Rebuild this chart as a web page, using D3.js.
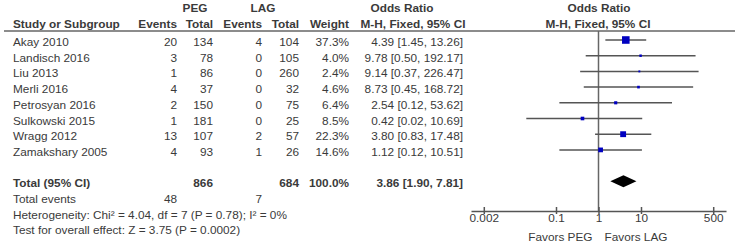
<!DOCTYPE html>
<html>
<head>
<meta charset="utf-8">
<script src="https://cdn.jsdelivr.net/npm/d3@7"></script>
<style>
  body { margin: 0; background: #fff; }
  svg text { font-family: "Liberation Sans", Arial, sans-serif; font-size: 11.8px; fill: #3a3a3a; }
  .b { font-weight: bold; }
</style>
</head>
<body>
<svg id="chart" width="738" height="245"></svg>
<script>
const studies = ["Akay 2010", "Landisch 2016", "Liu 2013", "Merli 2016", "Petrosyan 2016", "Sulkowski 2015", "Wragg 2012", "Zamakshary 2005"];
const pegEvents = [20, 3, 1, 4, 2, 1, 13, 4];
const pegTotal = [134, 78, 86, 37, 150, 181, 107, 93];
const lagEvents = [4, 0, 0, 0, 0, 0, 2, 1];
const lagTotal = [104, 105, 260, 32, 75, 25, 57, 26];
const weights = [37.3, 4.0, 2.4, 4.6, 6.4, 8.5, 22.3, 14.6];
const orValue = [4.39, 9.78, 9.14, 8.73, 2.54, 0.42, 3.80, 1.12];
const orLow = [1.45, 0.50, 0.37, 0.45, 0.12, 0.02, 0.83, 0.12];
const orHigh = [13.26, 192.17, 226.47, 168.72, 53.62, 10.69, 17.48, 10.51];
const total = {peg: 866, lag: 684, weight: 100.0, or: 3.86, lo: 1.90, hi: 7.81, pegEv: 48, lagEv: 7};
const tickValues = [0.002, 0.1, 1, 10, 500];
const tickLabels = ["0.002", "0.1", "1", "10", "500"];

const svg = d3.select("#chart");

// row positions (index -> y)
const y = d3.scaleLinear().domain([0, 1]).range([40, 55.7]);
const x = d3.scaleLog().domain([0.001, 1000]).range([471, 726]);
const axisY = 211;

// column right edges
const col = {study: 13, pegEv: 177, pegTot: 213, lagEv: 262, lagTot: 299, weight: 349, ci: 463};

function txt(xx, yy, s, anchor, bold) {
  return svg.append("text")
    .attr("x", xx).attr("y", yy)
    .attr("text-anchor", anchor || "start")
    .attr("class", bold ? "b" : null)
    .text(s);
}

// headers
txt(195, 12, "PEG", "middle", true);
txt(263, 12, "LAG", "middle", true);
txt(402, 12, "Odds Ratio", "middle", true);
txt(599, 12, "Odds Ratio", "middle", true);
txt(col.study, 28, "Study or Subgroup", "start", true);
txt(col.pegEv, 28, "Events", "end", true);
txt(col.pegTot, 28, "Total", "end", true);
txt(col.lagEv, 28, "Events", "end", true);
txt(col.lagTot, 28, "Total", "end", true);
txt(col.weight, 28, "Weight", "end", true);
txt(413, 28, "M-H, Fixed, 95% CI", "middle", true);
txt(598, 28, "M-H, Fixed, 95% CI", "middle", true);

// header rule + null line
svg.append("line").attr("x1", 4).attr("x2", 735).attr("y1", 31).attr("y2", 31)
  .attr("stroke", "#666").attr("stroke-width", 1.5);
svg.append("line").attr("x1", x(1)).attr("x2", x(1)).attr("y1", 31).attr("y2", axisY)
  .attr("stroke", "#666").attr("stroke-width", 1.5);

// study rows
studies.forEach(function(s, i) {
  const ty = y(i) + 6;
  txt(col.study, ty, s);
  txt(col.pegEv, ty, pegEvents[i], "end");
  txt(col.pegTot, ty, pegTotal[i], "end");
  txt(col.lagEv, ty, lagEvents[i], "end");
  txt(col.lagTot, ty, lagTotal[i], "end");
  txt(col.weight, ty, weights[i].toFixed(1) + "%", "end");
  txt(col.ci, ty, orValue[i].toFixed(2) + " [" + orLow[i].toFixed(2) + ", " + orHigh[i].toFixed(2) + "]", "end");
});

const g = svg.append("g");
g.selectAll("line.ci").data(studies).join("line")
  .attr("class", "ci")
  .attr("x1", (d, i) => x(orLow[i]))
  .attr("x2", (d, i) => x(orHigh[i]))
  .attr("y1", (d, i) => y(i))
  .attr("y2", (d, i) => y(i))
  .attr("stroke", "#555").attr("stroke-width", 1.5);

// square area follows the weight
g.selectAll("rect.pt").data(studies).join("rect")
  .attr("class", "pt")
  .attr("x", (d, i) => x(orValue[i]) - Math.sqrt(weights[i]) * 0.62)
  .attr("y", (d, i) => y(i) - Math.sqrt(weights[i]) * 0.62)
  .attr("width", (d, i) => Math.sqrt(weights[i]) * 1.24)
  .attr("height", (d, i) => Math.sqrt(weights[i]) * 1.24)
  .attr("fill", "#0000c0");

// totals
const ty9 = y(9) + 6;
txt(col.study, ty9, "Total (95% CI)", "start", true);
txt(col.pegTot, ty9, total.peg, "end", true);
txt(col.lagTot, ty9, total.lag, "end", true);
txt(col.weight, ty9, total.weight.toFixed(1) + "%", "end", true);
txt(col.ci, ty9, total.or.toFixed(2) + " [" + total.lo.toFixed(2) + ", " + total.hi.toFixed(2) + "]", "end", true);

const dy = y(9);
svg.append("path")
  .attr("d", "M" + x(total.lo) + "," + dy + "L" + x(total.or) + "," + (dy - 6) +
             "L" + x(total.hi) + "," + dy + "L" + x(total.or) + "," + (dy + 6) + "Z")
  .attr("fill", "#000");

txt(col.study, y(10) + 6, "Total events");
txt(col.pegEv, y(10) + 6, total.pegEv, "end");
txt(col.lagEv, y(10) + 6, total.lagEv, "end");
txt(col.study, y(11) + 6, "Heterogeneity: Chi\u00b2 = 4.04, df = 7 (P = 0.78); I\u00b2 = 0%");
txt(col.study, y(12) + 6, "Test for overall effect: Z = 3.75 (P = 0.0002)");

// axis
const axis = d3.axisBottom(x).tickValues(tickValues)
  .tickFormat((d, i) => tickLabels[i]).tickSize(4).tickSizeOuter(0);
const ag = svg.append("g").attr("transform", "translate(0," + axisY + ")").call(axis);
ag.select(".domain").attr("stroke", "#555").attr("stroke-width", 1.5);
ag.selectAll(".tick line").attr("stroke", "#555").attr("stroke-width", 1.5).attr("y1", -4).attr("y2", 3);
ag.selectAll(".tick text").attr("y", 2.5).style("font-size", "11.8px").style("fill", "#3a3a3a")
  .style("font-family", "Liberation Sans, Arial, sans-serif");

txt(x(1) - 6, 241, "Favors PEG", "end");
txt(x(1) + 6, 241, "Favors LAG", "start");
</script>
</body>
</html>
